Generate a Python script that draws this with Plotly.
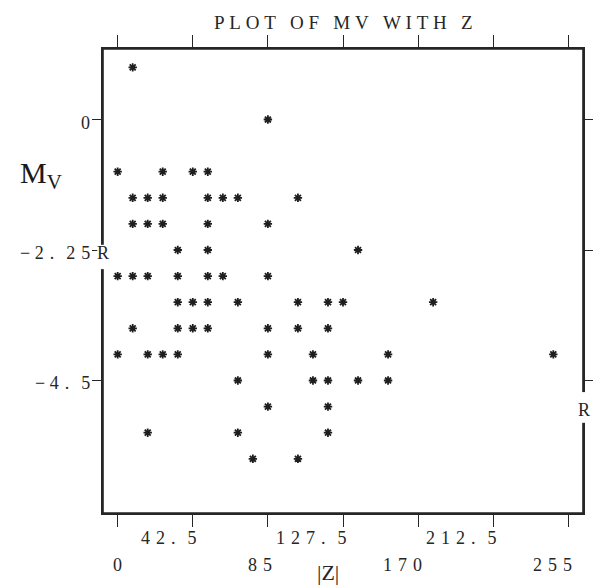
import plotly.graph_objects as go

# ---- data ----
z_vals = [8.5,
          85,
          0, 25.5, 42.5, 51,
          8.5, 17, 25.5, 51, 59.5, 68, 102,
          8.5, 17, 25.5, 51, 85,
          34, 51, 136,
          0, 8.5, 17, 34, 51, 59.5, 85,
          34, 42.5, 51, 68, 102, 119, 127.5, 178.5,
          8.5, 34, 42.5, 51, 85, 102, 119,
          0, 17, 25.5, 34, 85, 110.5, 153, 246.5,
          68, 110.5, 119, 136, 153,
          85, 119,
          17, 68, 119,
          76.5, 102]
mv_vals = [0.9,
           0,
           -0.9, -0.9, -0.9, -0.9,
           -1.35, -1.35, -1.35, -1.35, -1.35, -1.35, -1.35,
           -1.8, -1.8, -1.8, -1.8, -1.8,
           -2.25, -2.25, -2.25,
           -2.7, -2.7, -2.7, -2.7, -2.7, -2.7, -2.7,
           -3.15, -3.15, -3.15, -3.15, -3.15, -3.15, -3.15, -3.15,
           -3.6, -3.6, -3.6, -3.6, -3.6, -3.6, -3.6,
           -4.05, -4.05, -4.05, -4.05, -4.05, -4.05, -4.05, -4.05,
           -4.5, -4.5, -4.5, -4.5, -4.5,
           -4.95, -4.95,
           -5.4, -5.4, -5.4,
           -5.85, -5.85]

x_tick_vals = [0, 42.5, 85, 127.5, 170, 212.5, 255]
x_tick_text = ["0", "42.5", "85", "127.5", "170", "212.5", "255"]
y_tick_vals = [0, -2.25, -4.5]
y_tick_text = ["0", "\u22122.25", "\u22124.5"]
title_text = "PLOT OF MV WITH Z"
x_title = "|Z|"
y_title = "M<sub>V</sub>"
ref_mark = "R"
ref_mark_y = [-2.25, -4.95]

FONT = "Liberation Serif"
INK = "#262626"


def spaced(s):
    """Emulate line-printer character pitch with unicode spaces."""
    out = []
    for i, ch in enumerate(s):
        out.append(ch)
        if i < len(s) - 1:
            if ch.isdigit():
                out.append("\u2004")
            elif ch == ".":
                out.append("\u2002\u2006")
            else:
                out.append("\u2005")
    return "".join(out)


fig = go.Figure()
fig.add_trace(go.Scatter(
    x=z_vals, y=mv_vals, mode="markers",
    marker=dict(symbol="asterisk-open", size=7, color="#1e1e1e",
                line=dict(width=1.8, color="#1e1e1e")),
    hoverinfo="x+y", showlegend=False))

annotations = []
# x tick labels, staggered on two rows
for i, (v, t) in enumerate(zip(x_tick_vals, x_tick_text)):
    upper = (i % 2 == 1)
    annotations.append(dict(
        x=v, xref="x", y=0, yref="paper", text=spaced(t), showarrow=False,
        xanchor="right", yanchor="middle", xshift=6,
        yshift=-25 if upper else -52,
        font=dict(family=FONT, size=18, color=INK)))
# y tick labels
for v, t in zip(y_tick_vals, y_tick_text):
    annotations.append(dict(
        x=0, xref="paper", y=v, yref="y", text=spaced(t), showarrow=False,
        xanchor="right", yanchor="middle", xshift=-11, yshift=-3,
        font=dict(family=FONT, size=18, color=INK)))
# reference marks "R" on the left and right borders
for side, v in zip([0, 1], ref_mark_y):
    annotations.append(dict(
        x=side, xref="paper", y=v, yref="y", text=ref_mark, showarrow=False,
        xanchor="center", yanchor="middle", xshift=0 if side == 0 else 1,
        yshift=-3,
        font=dict(family=FONT, size=18, color=INK)))
# title
annotations.append(dict(
    x=127.5, xref="x", y=1, yref="paper", text="\u2005".join(title_text),
    showarrow=False, xanchor="center", yanchor="middle", yshift=27,
    font=dict(family=FONT, size=19, color=INK)))
# axis titles
annotations.append(dict(
    x=0.468, xref="paper", y=0, yref="paper", text=x_title, showarrow=False,
    xanchor="center", yanchor="middle", yshift=-59,
    font=dict(family=FONT, size=22, color=INK)))
annotations.append(dict(
    x=-0.177, xref="paper", y=0.728, yref="paper", text=y_title,
    showarrow=False, xanchor="left", yanchor="middle",
    font=dict(family=FONT, size=30, color="#1a1a1a")))

shapes = [
    # plot frame
    dict(type="rect", xref="paper", yref="paper", x0=0, x1=1, y0=0, y1=1,
         line=dict(color=INK, width=1.6), fillcolor="rgba(0,0,0,0)",
         layer="above"),
    # white gaps in the border where the "R" marks sit
    dict(type="rect", xref="paper", yref="y", x0=-0.012, x1=0.012,
         y0=ref_mark_y[0] - 0.33, y1=ref_mark_y[0] + 0.09,
         fillcolor="white", line=dict(width=0), layer="above"),
    dict(type="rect", xref="paper", yref="y", x0=0.985, x1=1.02,
         y0=ref_mark_y[1] - 0.28, y1=ref_mark_y[1] + 0.25,
         fillcolor="white", line=dict(width=0), layer="above"),
]

# page body has an 8px default margin, so the figure is sized to fit
fig.update_layout(
    width=593, height=577,
    margin=dict(l=95, r=7, t=41, b=72),
    paper_bgcolor="white", plot_bgcolor="white",
    annotations=annotations, shapes=shapes,
    xaxis=dict(range=[-8.3, 263.3], tickvals=x_tick_vals, showticklabels=False,
               ticks="outside", ticklen=12, tickwidth=1.3, tickcolor=INK,
               showline=True, linecolor=INK, linewidth=1.6, mirror="ticks",
               showgrid=False, zeroline=False, fixedrange=True),
    yaxis=dict(range=[-6.785, 1.216], tickvals=y_tick_vals, showticklabels=False,
               ticks="outside", ticklen=9, tickwidth=1.3, tickcolor=INK,
               showline=True, linecolor=INK, linewidth=1.6, mirror="ticks",
               showgrid=False, zeroline=False, fixedrange=True),
)

fig.write_html("out.html")
